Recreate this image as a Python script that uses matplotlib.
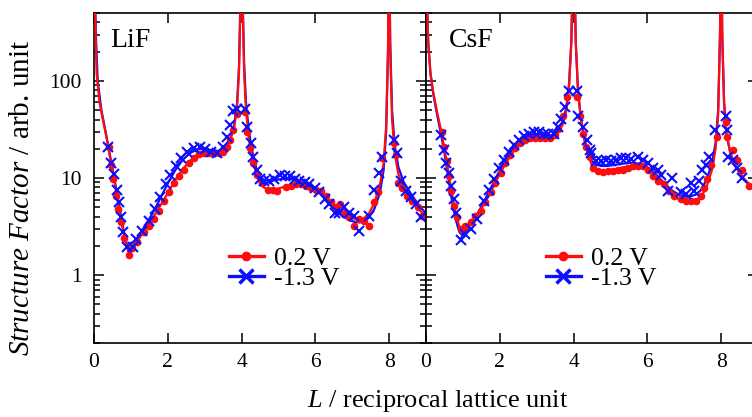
import matplotlib
matplotlib.use("Agg")
import matplotlib.pyplot as plt
from matplotlib.lines import Line2D

plt.rcParams['font.family'] = ['Liberation Serif', 'DejaVu Serif']
plt.rcParams['mathtext.fontset'] = 'custom'
plt.rcParams['mathtext.rm'] = 'Liberation Serif'
plt.rcParams['mathtext.it'] = 'Liberation Serif:italic'

# ---------------- LiF ----------------
lif_red_L = [0.41, 0.45, 0.52, 0.59, 0.65, 0.72, 0.81, 0.95, 1.04, 1.17, 1.35, 1.49, 1.62, 1.76,
             1.89, 2.03, 2.16, 2.30, 2.43, 2.57, 2.70, 2.84, 2.97, 3.11, 3.24, 3.38, 3.51, 3.60,
             3.69, 3.78, 3.87, 4.10, 4.14, 4.23, 4.32, 4.43, 4.55, 4.71, 4.85, 4.96, 5.21, 5.34,
             5.48, 5.61, 5.75, 5.88, 6.02, 6.15, 6.29, 6.42, 6.56, 6.68, 6.80, 6.92, 7.05, 7.19,
             7.32, 7.46, 7.59, 7.70, 7.82, 8.12, 8.18, 8.24, 8.36, 8.49, 8.63, 8.77, 8.90]
lif_red_S = [21, 13.7, 9.7, 6.5, 4.8, 3.5, 2.4, 1.63, 1.88, 2.2, 2.78, 3.24, 3.8, 4.6,
             5.8, 7.1, 8.9, 10.4, 12.2, 14.3, 16, 17.7, 18.3, 18.3, 18, 18, 18.7, 21,
             24.6, 31, 46, 47.5, 29.8, 20.2, 14.3, 10.8, 8.9, 7.6, 7.6, 7.35, 8.1, 8.3,
             8.6, 8.6, 8.3, 7.9, 7.6, 7.35, 6.5, 5.6, 5.0, 5.4, 4.4, 3.95, 3.24, 3.8,
             3.65, 3.24, 5.6, 7.2, 16, 22.7, 17.3, 8.9, 7.8, 6.5, 5.8, 5.0, 4.1]

lif_blue_L = [0.38, 0.47, 0.54, 0.61, 0.68, 0.74, 0.79, 0.90, 1.06, 1.15, 1.31, 1.49, 1.65, 1.80,
              1.94, 2.07, 2.21, 2.36, 2.52, 2.70, 2.86, 3.02, 3.17, 3.33, 3.50, 3.60, 3.69, 3.78,
              3.87, 4.10, 4.16, 4.25, 4.32, 4.41, 4.50, 4.62, 4.75, 4.89, 5.03, 5.17, 5.30, 5.44,
              5.57, 5.71, 5.84, 5.98, 6.11, 6.25, 6.38, 6.52, 6.65, 6.79, 6.92, 7.06, 7.19, 7.46,
              7.59, 7.72, 7.82, 8.14, 8.21, 8.32, 8.45, 8.59, 8.72, 8.86]
lif_blue_S = [21, 14.3, 11, 7.6, 5.6, 3.95, 2.78, 1.96, 1.96, 2.37, 2.88, 3.65, 4.8, 6.3,
              8.6, 10.8, 13.2, 16, 18.7, 20.2, 20.7, 19.7, 18.7, 18, 21, 26.5, 34.8, 49.5,
              51.6, 51.6, 33.6, 22.7, 16.6, 12.2, 9.7, 9.3, 9.3, 9.7, 10.8, 10.4, 10.4, 9.7,
              9.3, 9.0, 8.6, 7.9, 7.1, 6.05, 5.4, 4.4, 4.4, 5.0, 4.4, 4.1, 2.88, 4.1,
              7.6, 11.3, 16.6, 24.6, 18, 9.3, 7.35, 6.3, 5.4, 3.95]

lif_redfit_L = [0.0, 0.03, 0.07, 0.15, 0.25, 0.35, 0.45, 0.55, 0.65, 0.75, 0.85, 0.93, 1.0, 1.2,
                1.4, 1.6, 1.8, 2.0, 2.2, 2.4, 2.6, 2.8, 3.0, 3.2, 3.4, 3.55, 3.7, 3.8, 3.88,
                3.93, 3.97, 4.0, 4.03, 4.07, 4.12, 4.2, 4.3, 4.4, 4.5, 4.6, 4.75, 4.9, 5.1,
                5.3, 5.5, 5.7, 5.9, 6.1, 6.3, 6.5, 6.7, 6.9, 7.1, 7.3, 7.45, 7.6, 7.75, 7.85,
                7.92, 7.97, 8.0, 8.03, 8.08, 8.15, 8.25, 8.4, 8.6, 8.8, 9.0]
lif_redfit_S = [3000, 500, 120, 60, 38, 25, 15, 9.5, 5.5, 3.4, 2.2, 1.75, 1.85, 2.3,
                3.0, 3.9, 5.2, 7.0, 9.5, 12.3, 15, 17.3, 18.5, 18.5, 18.3, 19.5, 25, 33, 55,
                120, 600, 3000, 600, 120, 50, 25, 15, 11, 8.8, 8.0, 7.6, 7.6, 8.0,
                8.4, 8.5, 8.4, 8.0, 7.3, 6.2, 5.2, 4.5, 4.0, 3.75, 3.8, 4.3, 5.5, 8.5, 14,
                35, 200, 3000, 200, 40, 18, 11, 8.0, 6.0, 4.8, 4.0]

lif_bluefit_L = [0.0, 0.05, 0.1, 0.2, 0.3, 0.4, 0.5, 0.6, 0.7, 0.8, 0.9, 0.97, 1.05, 1.2,
                 1.4, 1.6, 1.8, 2.0, 2.2, 2.4, 2.6, 2.8, 3.0, 3.2, 3.4, 3.55, 3.7, 3.8, 3.88,
                 3.93, 3.97, 4.0, 4.03, 4.07, 4.12, 4.2, 4.3, 4.4, 4.5, 4.6, 4.75, 4.9, 5.1,
                 5.3, 5.5, 5.7, 5.9, 6.1, 6.3, 6.5, 6.7, 6.9, 7.1, 7.3, 7.45, 7.6, 7.75, 7.85,
                 7.92, 7.97, 8.0, 8.03, 8.08, 8.15, 8.25, 8.4, 8.6, 8.8, 9.0]
lif_bluefit_S = [3000, 300, 100, 50, 32, 20, 12.5, 7.8, 4.8, 2.9, 2.0, 1.8, 1.95, 2.5,
                 3.3, 4.4, 6.2, 8.8, 12.0, 15.3, 18.0, 19.8, 20.0, 19.3, 19.0, 20.5, 26, 35, 60,
                 140, 700, 3000, 700, 150, 60, 30, 18, 12.5, 10.3, 9.6, 9.3, 9.5, 9.8,
                 9.8, 9.5, 9.0, 8.3, 7.2, 6.0, 4.9, 4.2, 3.7, 3.5, 3.5, 3.9, 4.8, 7.0, 12,
                 30, 200, 3000, 250, 50, 22, 13, 9.0, 6.8, 5.3, 4.3]

# ---------------- CsF ----------------
csf_red_L = [0.44, 0.50, 0.56, 0.62, 0.68, 0.76, 0.83, 0.95, 1.07, 1.21, 1.34, 1.48, 1.61, 1.75,
             1.88, 2.02, 2.15, 2.29, 2.42, 2.56, 2.69, 2.83, 2.96, 3.10, 3.23, 3.37, 3.50, 3.59,
             3.71, 3.83, 4.10, 4.17, 4.26, 4.35, 4.44, 4.52, 4.66, 4.79, 4.93, 5.06, 5.20, 5.33,
             5.47, 5.60, 5.74, 5.87, 6.01, 6.15, 6.28, 6.46, 6.59, 6.73, 6.91, 7.04, 7.18, 7.31,
             7.45, 7.54, 7.63, 7.72, 7.88, 8.13, 8.17, 8.31, 8.44, 8.57, 8.75]
csf_red_S = [29.9, 21, 14.8, 10.4, 7.35, 5.2, 3.95, 3.0, 3.24, 3.5, 4.1, 4.6, 5.6, 7.1,
             8.9, 11.3, 14.3, 17.3, 20.2, 23, 24.6, 25.6, 26, 26, 25.6, 26, 27.7, 32.3,
             44, 67.5, 67.5, 44, 28.7, 21, 16.6, 12.7, 11.7, 11.4, 11.7, 11.7, 12, 12.2,
             12.7, 13.2, 13.4, 13.2, 12.2, 10.4, 9.3, 8.6, 7.35, 6.5, 6.1, 5.8, 5.8, 5.8,
             6.5, 7.9, 9.7, 13.7, 26.5, 37.8, 26.5, 19.5, 15.4, 12.2, 8.25]

csf_blue_L = [0.41, 0.48, 0.54, 0.61, 0.67, 0.75, 0.80, 0.95, 1.07, 1.21, 1.39, 1.57, 1.70, 1.84,
              1.97, 2.11, 2.24, 2.38, 2.51, 2.65, 2.78, 2.92, 3.05, 3.19, 3.32, 3.46, 3.57, 3.66,
              3.77, 3.89, 4.09, 4.13, 4.25, 4.36, 4.45, 4.47, 4.61, 4.75, 4.88, 5.02, 5.15, 5.29,
              5.42, 5.56, 5.74, 5.87, 6.01, 6.15, 6.28, 6.37, 6.55, 6.68, 6.91, 7.04, 7.18, 7.27,
              7.40, 7.49, 7.59, 7.68, 7.83, 8.13, 8.15, 8.19, 8.31, 8.44, 8.57]
csf_blue_S = [27.7, 19.5, 14.3, 11.3, 8.25, 6.05, 4.4, 2.28, 2.67, 3.0, 3.8, 5.8, 7.6, 9.7,
              12.7, 15.4, 18.7, 21.8, 24.6, 27, 28.7, 29.9, 29.5, 28.7, 28.2, 28.7, 33.6, 40.8,
              53.5, 79, 79, 44, 33.6, 24.6, 19.5, 18, 14.8, 14.8, 15.4, 14.8, 15.4, 16,
              16, 15.7, 16.3, 15.4, 14.3, 12.7, 12.2, 10.8, 7.35, 10.0, 7.1, 6.8, 8.9, 7.35,
              9.3, 12.2, 13.7, 16.6, 31, 44, 31, 16.6, 15.4, 12.7, 10.0]

csf_redfit_L = [0.0, 0.02, 0.06, 0.12, 0.2, 0.3, 0.4, 0.5, 0.6, 0.7, 0.8, 0.9, 0.97, 1.05,
                1.2, 1.4, 1.6, 1.8, 2.0, 2.2, 2.4, 2.6, 2.8, 3.0, 3.2, 3.4, 3.55, 3.7, 3.8,
                3.88, 3.94, 3.98, 4.0, 4.02, 4.06, 4.12, 4.2, 4.3, 4.4, 4.5, 4.6, 4.75, 4.9,
                5.1, 5.3, 5.5, 5.7, 5.9, 6.1, 6.3, 6.5, 6.7, 6.9, 7.1, 7.3, 7.45, 7.6, 7.75,
                7.85, 7.92, 7.97, 8.0, 8.03, 8.08, 8.15, 8.25, 8.4, 8.6, 8.8, 9.0]
csf_redfit_S = [3000, 800, 250, 120, 75, 48, 32, 20, 12, 7.0, 4.4, 3.2, 2.9, 3.0,
                3.4, 4.2, 5.6, 7.8, 11, 15, 19.5, 23, 25.5, 26.5, 26, 26, 28, 35, 48,
                90, 250, 1500, 5000, 1500, 250, 80, 40, 24, 17, 13.5, 12, 11.5, 11.6,
                12.2, 12.8, 13.2, 13.2, 12.7, 11.3, 9.5, 7.8, 6.6, 5.9, 5.6, 5.7, 6.3, 8.0, 12,
                20, 45, 300, 5000, 300, 60, 28, 18, 13, 10, 8.3, 7.2]

csf_bluefit_L = csf_redfit_L
csf_bluefit_S = [3000, 800, 250, 120, 72, 45, 29, 18, 10.5, 6.0, 3.8, 2.8, 2.6, 2.8,
                 3.3, 4.3, 6.0, 8.5, 12, 16.5, 21, 25, 27.5, 28, 27.5, 27.5, 30, 38, 52,
                 95, 260, 1500, 5000, 1500, 250, 80, 40, 25, 18, 15, 13.8, 13.3, 13.3,
                 13.6, 14, 14.3, 14.2, 13.6, 12.2, 10.3, 8.5, 7.3, 6.6, 6.4, 6.7, 7.5, 9.5, 14,
                 23, 50, 300, 5000, 300, 60, 28, 18, 13, 10, 8.3, 7.2]

panel_names = ["LiF", "CsF"]
series_labels = ["0.2 V", "-1.3 V"]
x_ticks = [0, 2, 4, 6, 8]
y_ticks = [1, 10, 100]
y_ticklabels = ["1", "10", "100"]

RED = "#ff0d0d"
BLUE = "#0d0dff"

fig = plt.figure(figsize=(7.52, 4.17), dpi=100)
W, H = 752.0, 417.0
axL = fig.add_axes([94 / W, (H - 343) / H, 332 / W, 330 / H])
axR = fig.add_axes([426 / W, (H - 343) / H, 332 / W, 330 / H])

panels = [
    (axL, lif_red_L, lif_red_S, lif_blue_L, lif_blue_S, lif_redfit_L, lif_redfit_S, lif_bluefit_L, lif_bluefit_S, (0.407, 0.29), 0.048),
    (axR, csf_red_L, csf_red_S, csf_blue_L, csf_blue_S, csf_redfit_L, csf_redfit_S, csf_bluefit_L, csf_bluefit_S, (0.361, 0.29), 0.07),
]

for i, (ax, rL, rS, bL, bS, rfL, rfS, bfL, bfS, legpos, namex) in enumerate(panels):
    ax.plot(bfL, bfS, color=BLUE, lw=1.6, zorder=2)
    ax.plot(rfL, rfS, color=RED, lw=1.6, zorder=3)
    ax.plot(rL, rS, 'o', color=RED, ms=5.5, mec='none', zorder=4)
    ax.plot(bL, bS, 'x', color=BLUE, ms=7, mew=1.5, zorder=5)
    ax.set_yscale('log')
    ax.set_xlim(0, 9)
    ax.set_ylim(0.2, 500)
    ax.set_xticks(x_ticks)
    ax.set_xticklabels([str(t) for t in x_ticks])
    ax.set_yticks(y_ticks)
    if i == 0:
        ax.set_yticklabels(y_ticklabels)
    else:
        ax.set_yticklabels([])
    ax.tick_params(which='both', direction='in', top=True, right=True, labelsize=15.5, width=1.1)
    ax.tick_params(which='major', length=7)
    ax.tick_params(which='minor', length=4)
    ax.tick_params(axis='y', which='major', pad=9)
    ax.tick_params(axis='x', which='major', pad=7)
    ax.minorticks_on()
    ax.xaxis.set_minor_locator(matplotlib.ticker.NullLocator())
    for s in ax.spines.values():
        s.set_linewidth(1.2)
    ax.text(namex, 0.955, panel_names[i], transform=ax.transAxes, fontsize=20, va='top', ha='left')
    handles = [
        Line2D([], [], color=RED, lw=2.4, marker='o', ms=7, mec='none'),
        Line2D([], [], color=BLUE, lw=2.4, marker='x', ms=10, mew=2.5),
    ]
    ax.legend(handles, series_labels, loc='upper left', bbox_to_anchor=legpos, frameon=False,
              fontsize=18.5, handlelength=1.35, handletextpad=0.4, labelspacing=-0.12, borderpad=0,
              borderaxespad=0)

fig.text(22 / W, 1 - 198 / H, r'$\mathit{Structure\ Factor}$ / arb. unit', rotation=90,
         ha='center', va='center', fontsize=21)
fig.text(438 / W, 3 / H, r'$\mathit{L}$ / reciprocal lattice unit', ha='center', va='bottom', fontsize=19)

fig.savefig('out.png', dpi=100)
